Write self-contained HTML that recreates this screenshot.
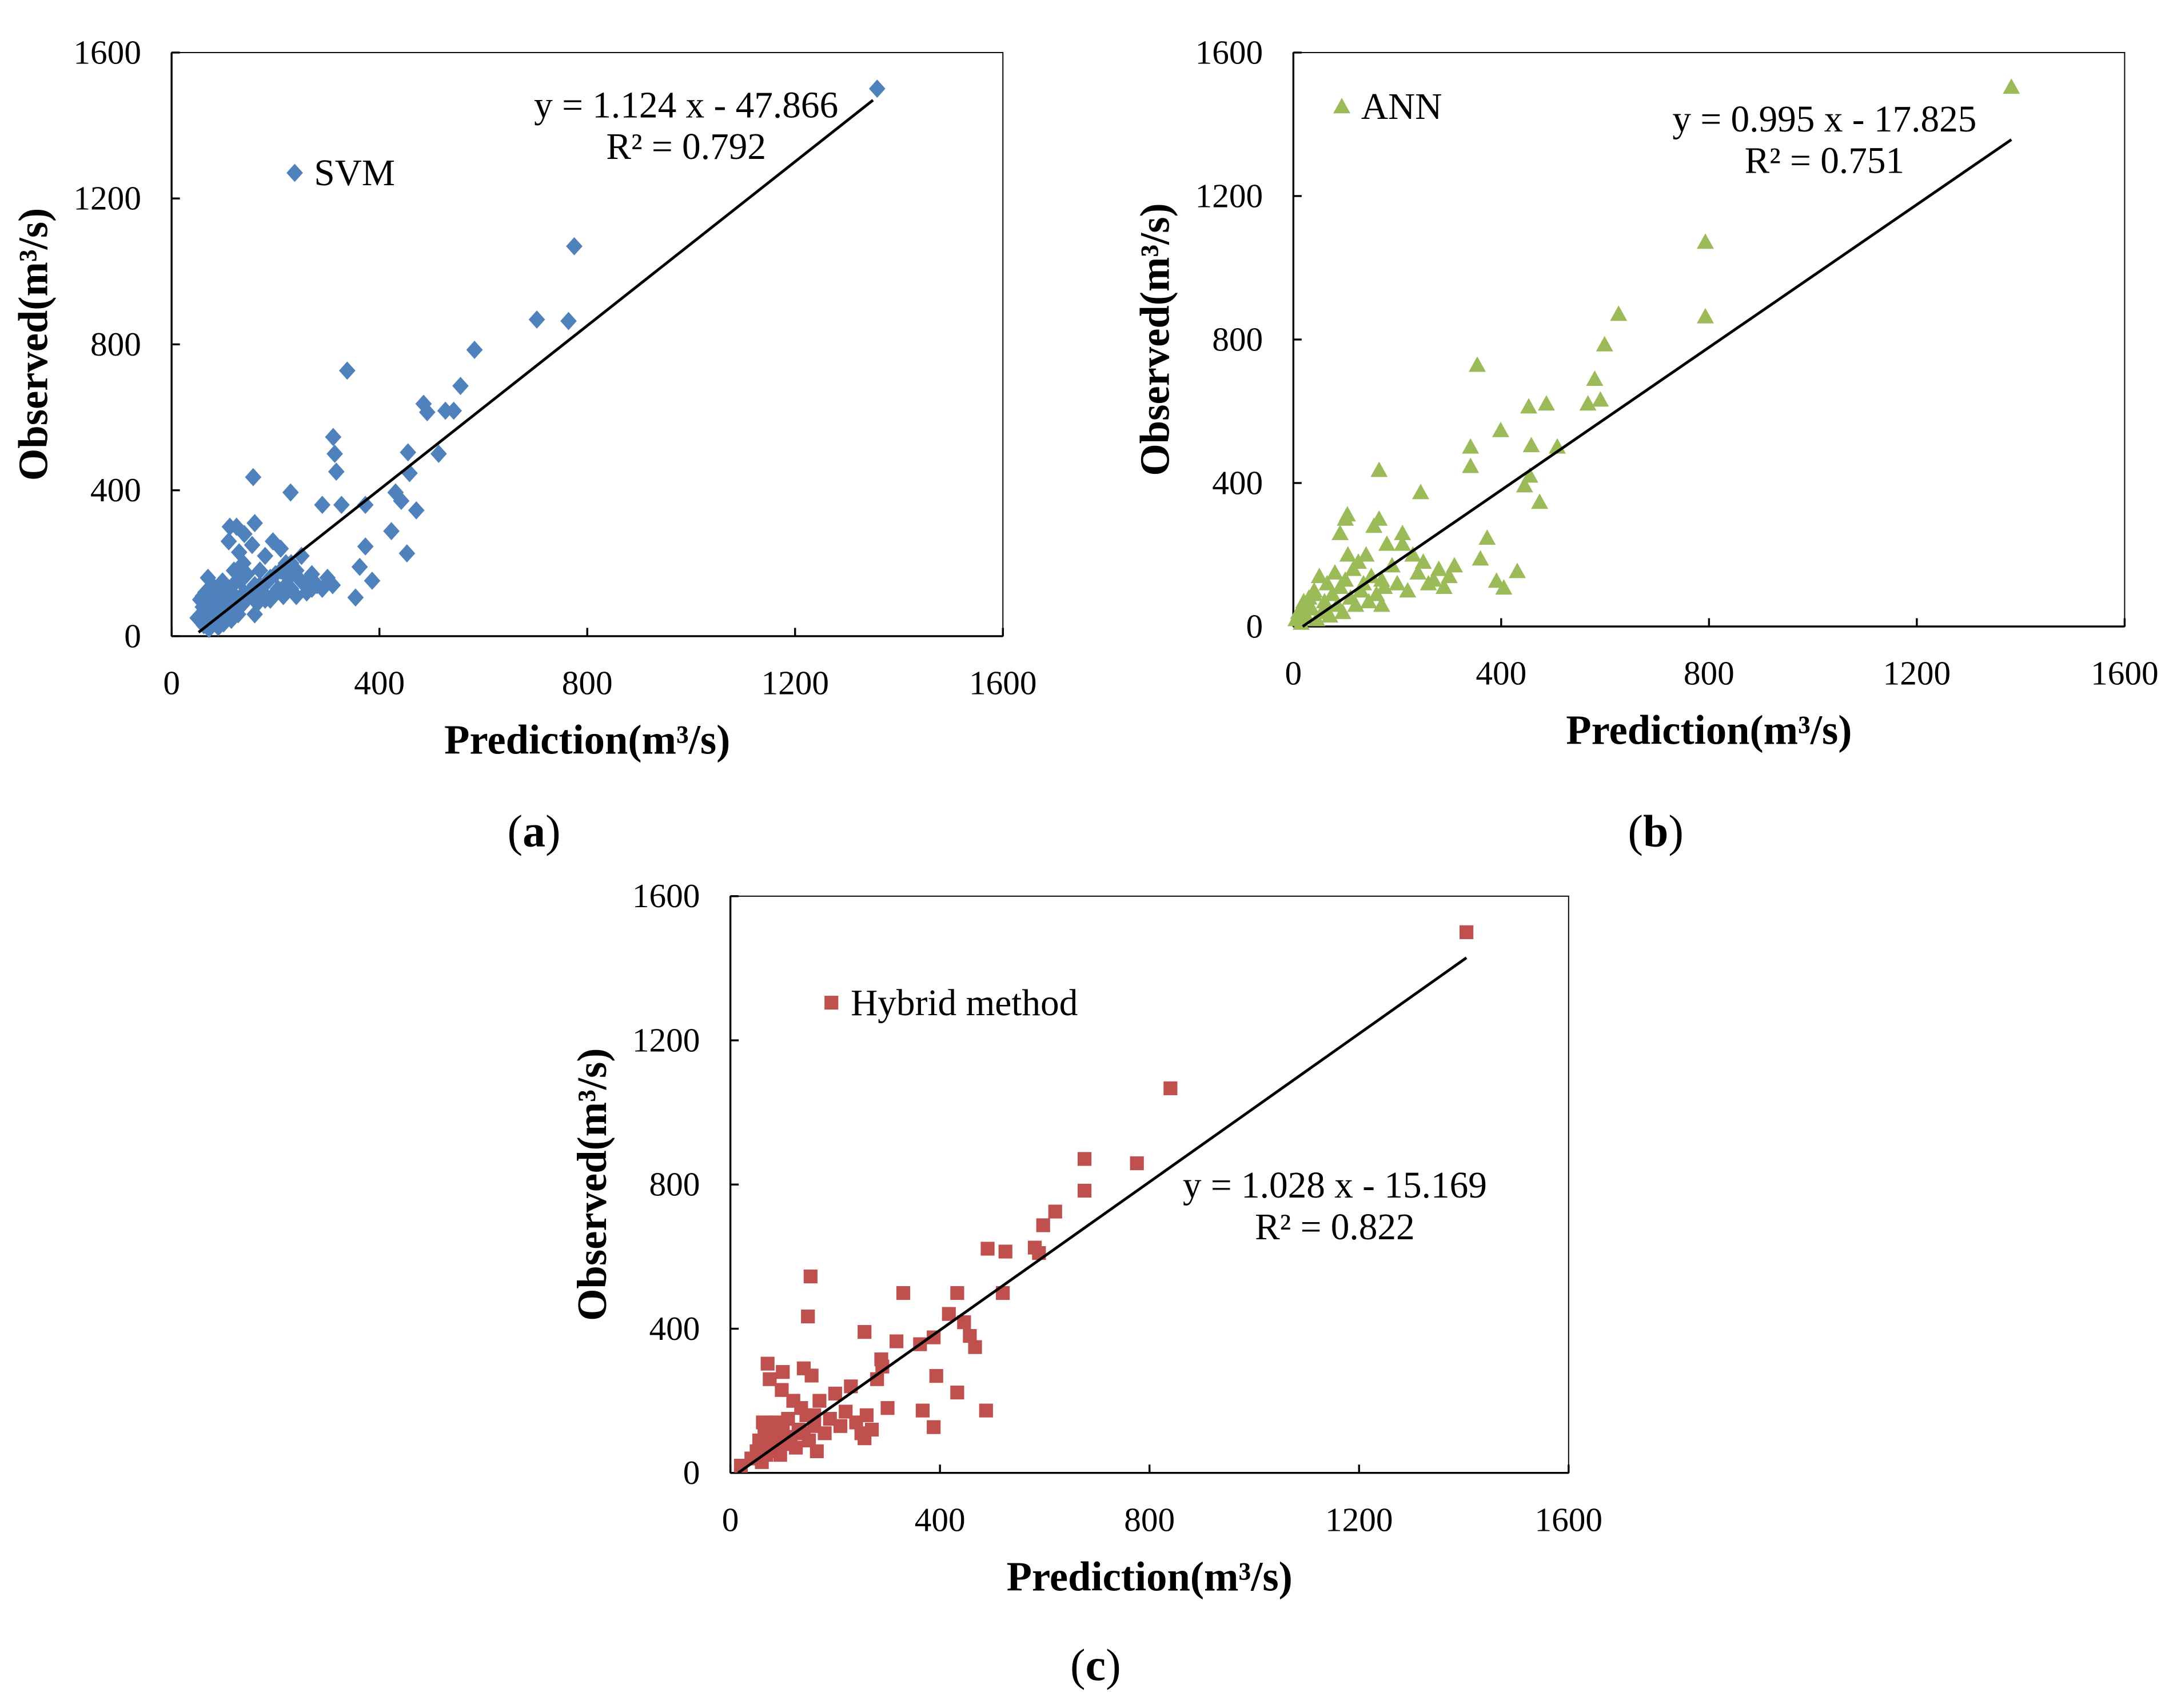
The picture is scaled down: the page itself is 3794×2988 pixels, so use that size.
<!DOCTYPE html>
<html><head><meta charset="utf-8"><style>html,body{margin:0;padding:0;background:#fff}svg{display:block}</style></head>
<body>
<svg id="fig" width="3794" height="2988" viewBox="0 0 1568 1235" xmlns="http://www.w3.org/2000/svg" font-family="'Liberation Serif', serif"></svg>
<script>
// Panel (a) SVM
const svmX=[1358,775,764,703,583,556,485,492,527,543,514,455,338,311,314,317,157,229,458,471,442,431,423,290,327,373,453,373,362,386,354,112,
50,55,60,62,65,68,70,72,75,78,80,82,85,88,90,92,95,98,100,102,105,108,110,112,115,118,120,122,125,128,130,132,135,138,140,145,150,155,160,165,170,175,180,185,190,195,200,205,210,215,220,225,230,240,250,260,270,280,290,300,310,125,140,160,100,85,
70,90,110,130,150,170,190,210,230,250,270,60,80,100,120,140,160,180,200,220,240,260];
const svmY=[1501,1069,864,868,785,686,637,614,618,618,500,504,728,546,500,451,436,394,447,345,371,394,288,360,360,360,227,246,190,152,106,300,
50,100,80,30,120,60,160,20,90,140,40,110,70,130,25,100,60,150,35,80,120,55,260,95,45,140,180,75,105,60,230,150,85,200,120,170,110,250,140,90,180,120,220,150,100,260,170,130,240,110,200,160,130,180,150,120,170,140,130,160,140,300,280,310,40,130,
40,60,80,100,120,140,160,180,200,220,130,110,50,90,70,110,60,100,120,140,110,150];
// Panel (b) ANN
const annX=[1382,793,793,626,599,580,591,567,487,453,508,458,354,399,341,341,165,245,455,474,445,373,360,391,431,405,104,
5,10,15,20,25,30,35,40,45,50,55,60,65,70,75,80,85,90,95,100,105,110,115,120,125,130,135,140,145,150,155,160,165,170,175,180,190,200,210,220,230,240,250,260,270,280,290,300,310,100,90,60,40,20,130,170,210];
const annY=[1504,1072,864,871,786,690,632,621,621,613,501,505,729,547,501,447,436,374,420,347,393,247,189,127,154,108,312,
20,40,10,60,30,80,50,100,20,140,40,70,120,30,90,150,60,110,40,130,200,80,160,60,180,100,120,200,70,140,280,90,300,130,110,230,170,120,260,100,200,150,180,120,130,160,110,140,170,300,260,50,90,70,100,60,230];
// Panel (c) Hybrid
const hybX=[1405,840,676,676,776,620,597,581,589,491,525,520,433,330,153,148,256,417,446,457,467,317,362,388,288,290,488,433,367,393,388,71,256,
20,40,50,55,60,62,65,68,70,72,75,78,80,82,85,88,90,92,95,98,100,105,110,115,120,125,130,135,140,145,150,155,160,165,170,180,190,200,210,220,230,240,250,260,270,280,300,100,120,140,160,80];
const hybY=[1500,1067,871,783,859,725,687,625,610,622,614,499,499,499,545,434,391,441,418,380,349,365,357,376,315,295,173,223,173,269,127,303,96,
20,40,60,90,30,140,110,50,130,80,260,100,120,60,140,90,70,110,50,230,130,80,150,100,200,70,120,180,110,160,90,270,130,60,200,110,150,220,130,170,240,140,110,160,120,260,180,280,200,290,160,120];
const ticks=[0,400,800,1200,1600];
const tickLabels=["0","400","800","1200","1600"];

const NS="http://www.w3.org/2000/svg";
const fig=document.getElementById('fig');
function mk(tag,attrs,parent,text){const e=document.createElementNS(NS,tag);for(const k in attrs)e.setAttribute(k,attrs[k]);if(text!==undefined)e.textContent=text;(parent||fig).appendChild(e);return e;}

function panel(cfg){
  const g=mk('g',{});
  
  
  const L=cfg.L,R=cfg.R,T=cfg.T,B=cfg.B;
  const sx=v=>L+(v/1600)*(R-L), sy=v=>B-(v/1600)*(B-T);
  const box=mk('rect',{x:L,y:T,width:R-L,height:B-T,fill:'none',stroke:'#000','stroke-width':0.8},g);
  
  
  const ya=mk('line',{x1:L,y1:T,x2:L,y2:B,stroke:'#000','stroke-width':1.4},g);
  
  
  const xa=mk('line',{x1:L,y1:B,x2:R,y2:B,stroke:'#000','stroke-width':1.4},g);
  
  
  ticks.forEach((t,i)=>{
    mk('line',{x1:L,y1:sy(t),x2:L+6,y2:sy(t),stroke:'#000','stroke-width':1.4},g);
    mk('line',{x1:sx(t),y1:B,x2:sx(t),y2:B-6,stroke:'#000','stroke-width':1.4},g);
    const yl=mk('text',{x:L-22,y:sy(t)+8,'text-anchor':'end','font-size':24.5},g,tickLabels[i]);
    
    
    const xl=mk('text',{x:sx(t),y:B+42,'text-anchor':'middle','font-size':24.5},g,tickLabels[i]);
    
    
  });
  const pts=mk('g',{fill:cfg.color},g);
  
  
  function marker(cx,cy,par){
    let e;
    if(cfg.shape==='diamond'){const s=6.6;e=mk('polygon',{points:`${cx},${cy-s} ${cx+s*0.9},${cy} ${cx},${cy+s} ${cx-s*0.9},${cy}`},par);}
    else if(cfg.shape==='tri'){const s=6.2;e=mk('polygon',{points:`${cx},${cy-s} ${cx+s},${cy+s*0.8} ${cx-s},${cy+s*0.8}`},par);}
    else {const s=5;e=mk('rect',{x:cx-s,y:cy-s,width:2*s,height:2*s},par);}
    return e;
  }
  cfg.xs.forEach((xv,i)=>{
    const m=marker(sx(xv),sy(cfg.ys[i]),pts);
    
    
  });
  const tl=mk('line',{x1:sx(cfg.lx0),y1:sy(cfg.a*cfg.lx0+cfg.b),x2:sx(cfg.lx1),y2:sy(cfg.a*cfg.lx1+cfg.b),stroke:'#000','stroke-width':2},g);
  
  
  const lm=marker(cfg.legX,cfg.legY,g); lm.setAttribute('fill',cfg.color);
  
  
  const lt=mk('text',{x:cfg.legX+14,y:cfg.legY+9,'font-size':27},g,cfg.label);
  
  
  const e1=mk('text',{x:cfg.eqX,y:cfg.eqY,'text-anchor':'middle','font-size':27},g,cfg.eq);
  
  
  const e2=mk('text',{x:cfg.eqX,y:cfg.eqY+30,'text-anchor':'middle','font-size':27},g,cfg.r2);
  
  
  const xt=mk('text',{x:(L+R)/2,y:B+85,'text-anchor':'middle','font-size':30,'font-weight':'bold'},g,'Prediction(m³/s)');
  
  
  const yx=L-90,yy=(T+B)/2;
  const yt=mk('text',{x:yx,y:yy,'text-anchor':'middle','font-size':30,'font-weight':'bold',transform:`rotate(-90 ${yx} ${yy})`},g,'Observed(m³/s)');
  
  
  const pl=mk('text',{x:cfg.plX,y:cfg.plY,'text-anchor':'middle','font-size':33},g);
  
  
  mk('tspan',{},pl,'(');mk('tspan',{'font-weight':'bold'},pl,cfg.pl);mk('tspan',{},pl,')');
}
panel({name:'svm',L:124,R:725,T:38,B:460,xs:svmX,ys:svmY,color:'#4f81bd',shape:'diamond',a:1.124,b:-47.866,lx0:52,lx1:1350,
  legX:213,legY:125,label:'SVM',eqX:496,eqY:85,eq:'y = 1.124 x - 47.866',r2:'R² = 0.792',plX:386,plY:612,pl:'a'});
panel({name:'ann',L:935,R:1536,T:38,B:453,xs:annX,ys:annY,color:'#9bbb59',shape:'tri',a:0.995,b:-17.825,lx0:18,lx1:1382,
  legX:970,legY:77,label:'ANN',eqX:1319,eqY:95,eq:'y = 0.995 x - 17.825',r2:'R² = 0.751',plX:1197,plY:612,pl:'b'});
panel({name:'hybrid',L:528,R:1134,T:648,B:1065,xs:hybX,ys:hybY,color:'#c0504d',shape:'sq',a:1.028,b:-15.169,lx0:15,lx1:1405,
  legX:601,legY:725,label:'Hybrid method',eqX:965,eqY:866,eq:'y = 1.028 x - 15.169',r2:'R² = 0.822',plX:792,plY:1215,pl:'c'});
</script>
</body></html>
